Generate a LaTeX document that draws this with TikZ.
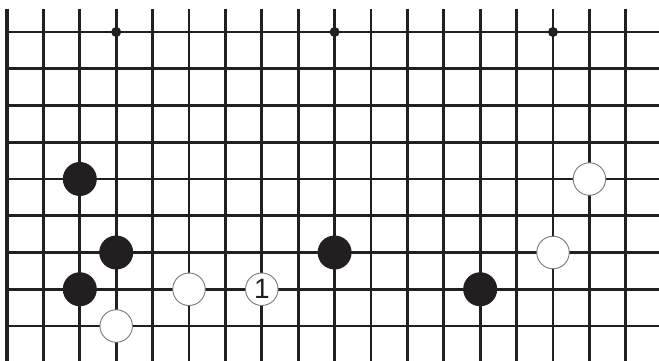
\documentclass[tikz,border=0pt]{standalone}
\usepackage{fontspec}
\setsansfont{Liberation Sans}
\usepackage{tikz}
\usetikzlibrary{positioning}
\definecolor{Ink}{HTML}{231F20}
\definecolor{Rim}{HTML}{77787B}
\def\dx{36.4}
\def\dy{36.75}
\tikzset{
  grid/.style={draw=Ink,line width=2.7pt},
  edge/.style={draw=Ink,line width=3.1pt},
  hoshi/.style={circle,fill=Ink,inner sep=0pt,minimum size=10pt},
  stoneb/.style={circle,fill=Ink,inner sep=0pt,minimum size=34pt},
  stonew/.style={circle,draw=Rim,line width=0.9pt,fill=white,inner sep=0pt,minimum size=32.5pt,
    text=Ink,font=\sffamily\fontsize{28}{28}\selectfont}
}
\begin{document}
\begin{tikzpicture}[x=1pt,y=-1pt]
  \useasboundingbox (0,0) rectangle (659,361);
  % board lines
  \foreach \c in {1,...,17} \draw[grid] ({7+\c*\dx},9) -- ({7+\c*\dx},361);
  \foreach \r in {0,...,8} \draw[grid] (7,{32+\r*\dy}) -- (659,{32+\r*\dy});
  \draw[edge] (7,9) -- (7,361);
  % star points
  \foreach \c/\n in {3/a,9/b,15/c} \node[hoshi] (hoshi\n) at ({7+\c*\dx},32) {};
  % black stones
  \node[stoneb] (b1) at ({7+2*\dx},{32+4*\dy}) {};
  \node[stoneb] (b2) at ({7+3*\dx},{32+6*\dy}) {};
  \node[stoneb] (b3) at ({7+2*\dx},{32+7*\dy}) {};
  \node[stoneb] (b4) at ({7+9*\dx},{32+6*\dy}) {};
  \node[stoneb] (b5) at ({7+13*\dx},{32+7*\dy}) {};
  % white stones
  \node[stonew] (w1) at ({7+3*\dx},{32+8*\dy}) {};
  \node[stonew] (w2) at ({7+5*\dx},{32+7*\dy}) {};
  \node[stonew] (w3) at ({7+15*\dx},{32+6*\dy}) {};
  \node[stonew] (w4) at ({7+16*\dx},{32+4*\dy}) {};
  \node[stonew] (move1) at ({7+7*\dx},{32+7*\dy}) {1};
\end{tikzpicture}
\end{document}
